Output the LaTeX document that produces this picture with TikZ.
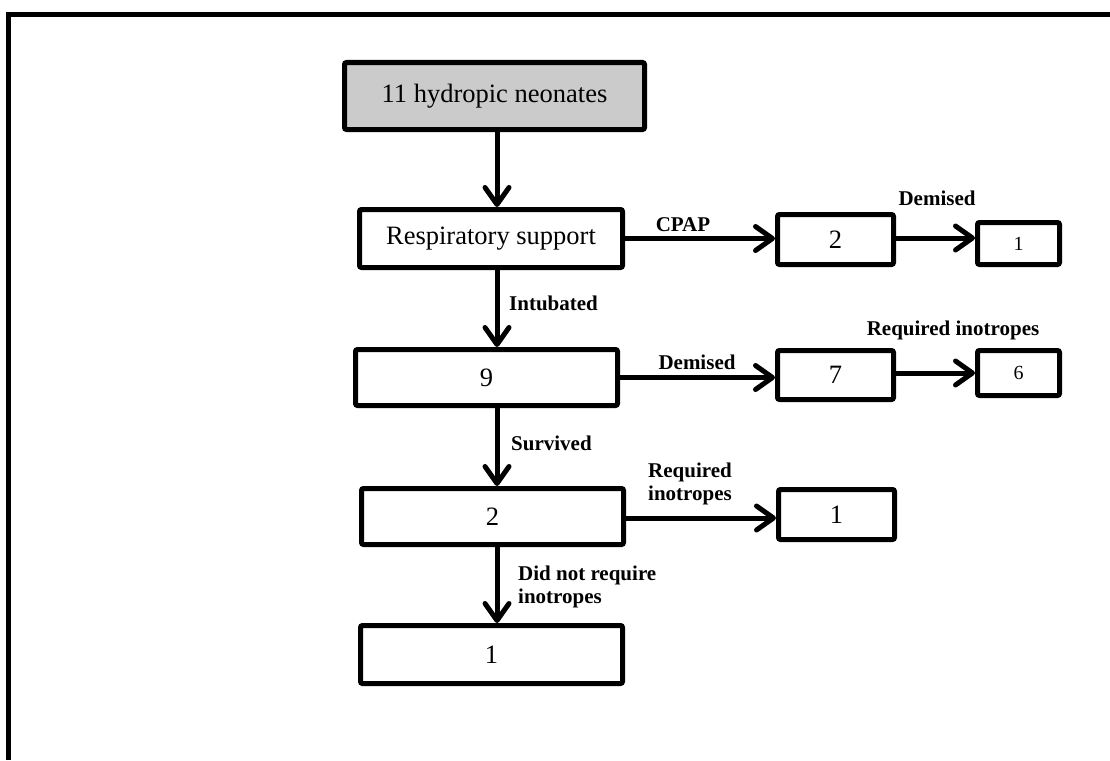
\documentclass[tikz,border=0pt]{standalone}
\usepackage{fontspec}
\setmainfont{Liberation Serif}
\usetikzlibrary{arrows.meta}
\definecolor{startgray}{RGB}{203,203,203}
\begin{document}
\begin{tikzpicture}[x=1pt,y=-1pt,
  box/.style={draw, line width=5pt, rounded corners=2pt, inner sep=0pt,
    font=\fontsize{26.5}{30}\selectfont},
  smallbox/.style={box, font=\fontsize{20}{24}\selectfont},
  lbl/.style={inner sep=0pt, font=\fontsize{21}{23}\selectfont\bfseries, align=left},
  flow/.style={line width=5pt, -{Straight Barb[length=17pt,width=24pt,round]}}]
  \useasboundingbox (0,0) rectangle (1110,760);

  % outer frame (right and bottom sides lie beyond the page)
  \draw[line width=5pt] (8,760) -- (8,14.5) -- (1110,14.5);

  % boxes
  \node[box, fill=startgray, minimum width=300, minimum height=67] (start) at (494.5,96) {11 hydropic neonates};
  \node[box, minimum width=263, minimum height=58] (resp) at (491,238.5) {Respiratory support};
  \node[box, minimum width=116, minimum height=50] (cpap) at (835.5,239.5) {2};
  \node[smallbox, minimum width=82, minimum height=42] (cpapdied) at (1018.5,243.5) {1};
  \node[box, minimum width=262, minimum height=56] (intub) at (486.5,377.5) {9};
  \node[box, minimum width=116, minimum height=49] (died) at (835.5,375) {7};
  \node[smallbox, minimum width=82, minimum height=45] (diedino) at (1018.5,373) {6};
  \node[box, minimum width=262, minimum height=56] (surv) at (492.5,516.5) {2};
  \node[box, minimum width=116, minimum height=50] (survino) at (836.5,514.5) {1};
  \node[box, minimum width=262, minimum height=58] (survnoino) at (491.5,654.5) {1};

  % vertical trunk position
  \coordinate (vx) at (497,0);

  % connectors
  \draw[flow] (start.south -| vx) -- (resp.north -| vx);
  \draw[flow] (resp.south -| vx) -- (intub.north -| vx);
  \draw[flow] (intub.south -| vx) -- (surv.north -| vx);
  \draw[flow] (surv.south -| vx) -- (survnoino.north -| vx);
  \draw[flow] (resp.east) -- (resp.east -| cpap.west);
  \draw[flow] ([yshift=1.5pt]cpap.east) -- ([yshift=1.5pt]cpap.east -| cpapdied.west);
  \draw[flow] (intub.east) -- (intub.east -| died.west);
  \draw[flow] ([yshift=2pt]died.east) -- ([yshift=2pt]died.east -| diedino.west);
  \draw[flow] ([yshift=-1.5pt]surv.east) -- ([yshift=-1.5pt]surv.east -| survino.west);

  % connector labels
  \node[lbl] (lcpap) at (683,225) {CPAP};
  \node[lbl] (ldem1) at (937,198) {Demised};
  \node[lbl, anchor=west] (lintub) at (509,303) {Intubated};
  \node[lbl] (ldem2) at (697,362) {Demised};
  \node[lbl] (lreq1) at (953,330) {Required inotropes};
  \node[lbl, anchor=west] (lsurv) at (511,443) {Survived};
  \node[lbl, anchor=west] (lreq2) at (648,483.5) {Required\\inotropes};
  \node[lbl, anchor=west] (lnoreq) at (518,586.5) {Did not require\\inotropes};
\end{tikzpicture}
\end{document}
